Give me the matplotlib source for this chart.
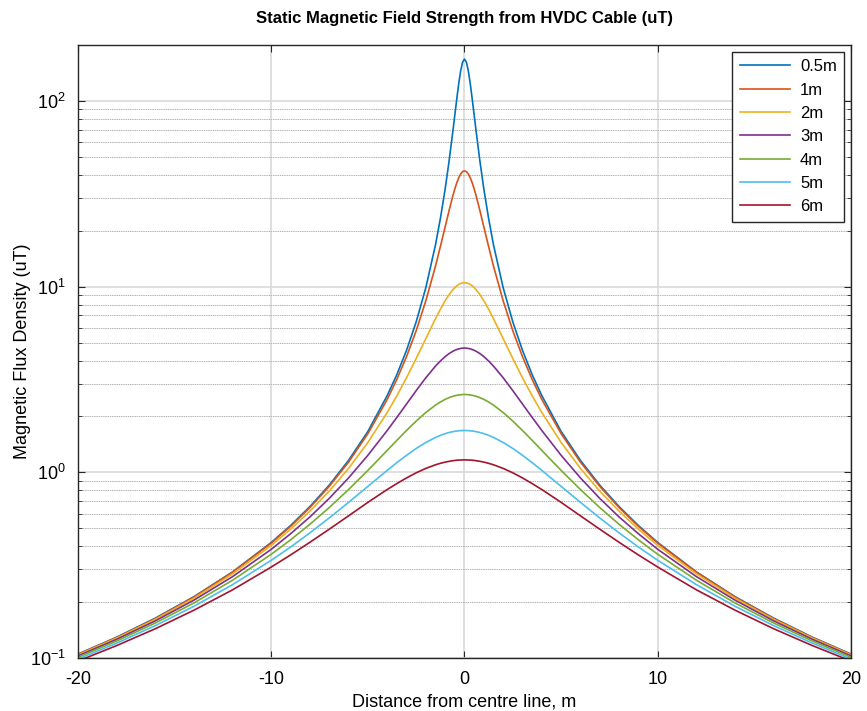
import numpy as np
import matplotlib.pyplot as plt
from matplotlib.ticker import LogLocator, NullFormatter

plt.rcParams['font.family'] = ['Liberation Sans', 'DejaVu Sans']
plt.rcParams['axes.unicode_minus'] = False

# distance from centre line (one side, curves are symmetric about 0)
x_half = [0, 0.1, 0.2, 0.3, 0.4, 0.5, 0.6, 0.8, 1.0, 1.25, 1.5, 2, 2.5, 3, 3.5, 4,
          5, 6, 7, 8, 9, 10, 12, 14, 16, 18, 20]

depths = ['0.5m', '1m', '2m', '3m', '4m', '5m', '6m']

b_05 = [168, 161.5, 144.8, 123.5, 102.4, 84.0, 68.9, 47.2, 33.6, 23.2, 16.8, 9.88, 6.46,
        4.54, 3.36, 2.59, 1.66, 1.16, 0.853, 0.654, 0.517, 0.419, 0.291, 0.214, 0.164,
        0.1295, 0.105]
b_1 = [42.0, 41.6, 40.4, 38.5, 36.2, 33.6, 30.9, 25.6, 21.0, 16.4, 12.9, 8.4, 5.79, 4.2,
       3.17, 2.47, 1.615, 1.135, 0.84, 0.646, 0.512, 0.416, 0.290, 0.213, 0.163, 0.129,
       0.1047]
b_2 = [10.5, 10.47, 10.40, 10.27, 10.10, 9.88, 9.63, 9.05, 8.4, 7.55, 6.72, 5.25, 4.10,
       3.23, 2.585, 2.1, 1.448, 1.05, 0.792, 0.618, 0.494, 0.404, 0.284, 0.21, 0.1615,
       0.128, 0.104]
b_3 = [4.667, 4.661, 4.646, 4.620, 4.585, 4.541, 4.487, 4.357, 4.2, 3.976, 3.733, 3.231,
       2.754, 2.333, 1.976, 1.68, 1.235, 0.933, 0.724, 0.575, 0.467, 0.385, 0.2745, 0.205,
       0.1585, 0.1261, 0.1027]
b_4 = [2.625, 2.623, 2.618, 2.610, 2.599, 2.585, 2.567, 2.524, 2.471, 2.391, 2.301, 2.1,
       1.888, 1.68, 1.487, 1.3125, 1.024, 0.808, 0.646, 0.525, 0.433, 0.362, 0.2625, 0.198,
       0.1544, 0.1235, 0.101]
b_5 = [1.68, 1.679, 1.677, 1.674, 1.669, 1.663, 1.656, 1.638, 1.615, 1.581, 1.541, 1.448,
       1.344, 1.235, 1.128, 1.024, 0.84, 0.689, 0.568, 0.472, 0.396, 0.336, 0.2485, 0.19,
       0.1495, 0.1203, 0.0988]
b_6 = [1.167, 1.166, 1.165, 1.164, 1.1615, 1.159, 1.155, 1.146, 1.135, 1.118, 1.098, 1.05,
       0.994, 0.933, 0.870, 0.808, 0.689, 0.583, 0.494, 0.42, 0.359, 0.309, 0.233, 0.181,
       0.1438, 0.1167, 0.0963]

series = [b_05, b_1, b_2, b_3, b_4, b_5, b_6]
colors = ['#0072bd', '#d95319', '#edb120', '#7e2f8e', '#77ac30', '#4dbeee', '#a2142f']

xh = np.array(x_half)
x = np.concatenate([-xh[::-1], xh[1:]])

fig = plt.figure(figsize=(8.67, 7.11), dpi=100)
ax = fig.add_axes([0.090, 0.0745, 0.8915, 0.8622])

for vals, lab, c in zip(series, depths, colors):
    v = np.array(vals)
    y = np.concatenate([v[::-1], v[1:]])
    ax.plot(x, y, color=c, linewidth=1.2, label=lab)

ax.set_yscale('log')
ax.set_xlim(-20, 20)
ax.set_ylim(0.1, 200)
ax.set_xticks([-20, -10, 0, 10, 20])
ax.yaxis.set_major_locator(LogLocator(base=10, numticks=10))
ax.yaxis.set_minor_locator(LogLocator(base=10, subs=np.arange(2, 10), numticks=20))
ax.yaxis.set_minor_formatter(NullFormatter())

ax.grid(True, which='major', color='#d9d9d9', linestyle='-', linewidth=1.2)
ax.grid(True, which='minor', axis='y', color='#b4b4b4', linestyle=(0, (1.5, 0.8)),
        linewidth=0.7)
ax.set_axisbelow(True)

ax.tick_params(which='both', direction='in', top=True, right=True, labelsize=13,
               color='#262626')
ax.tick_params(axis='x', which='major', length=5, pad=9)
ax.tick_params(axis='y', which='major', length=5, pad=9)
ax.tick_params(which='minor', length=3)
for s in ax.spines.values():
    s.set_color('#262626')
    s.set_linewidth(1.0)

ax.set_xlabel('Distance from centre line, m', fontsize=13, labelpad=4)
ax.set_ylabel('Magnetic Flux Density (uT)', fontsize=13, labelpad=-1)
ax.set_title('Static Magnetic Field Strength from HVDC Cable (uT)', fontsize=12,
             fontweight='bold', pad=16)

leg = ax.legend(loc='upper right', fontsize=12, fancybox=False, framealpha=1,
                edgecolor='#262626', handlelength=3.0, handletextpad=0.6,
                labelspacing=0.5, borderaxespad=0.4, borderpad=0.45)
leg.get_frame().set_linewidth(1.0)

fig.savefig('out.png', dpi=100)
